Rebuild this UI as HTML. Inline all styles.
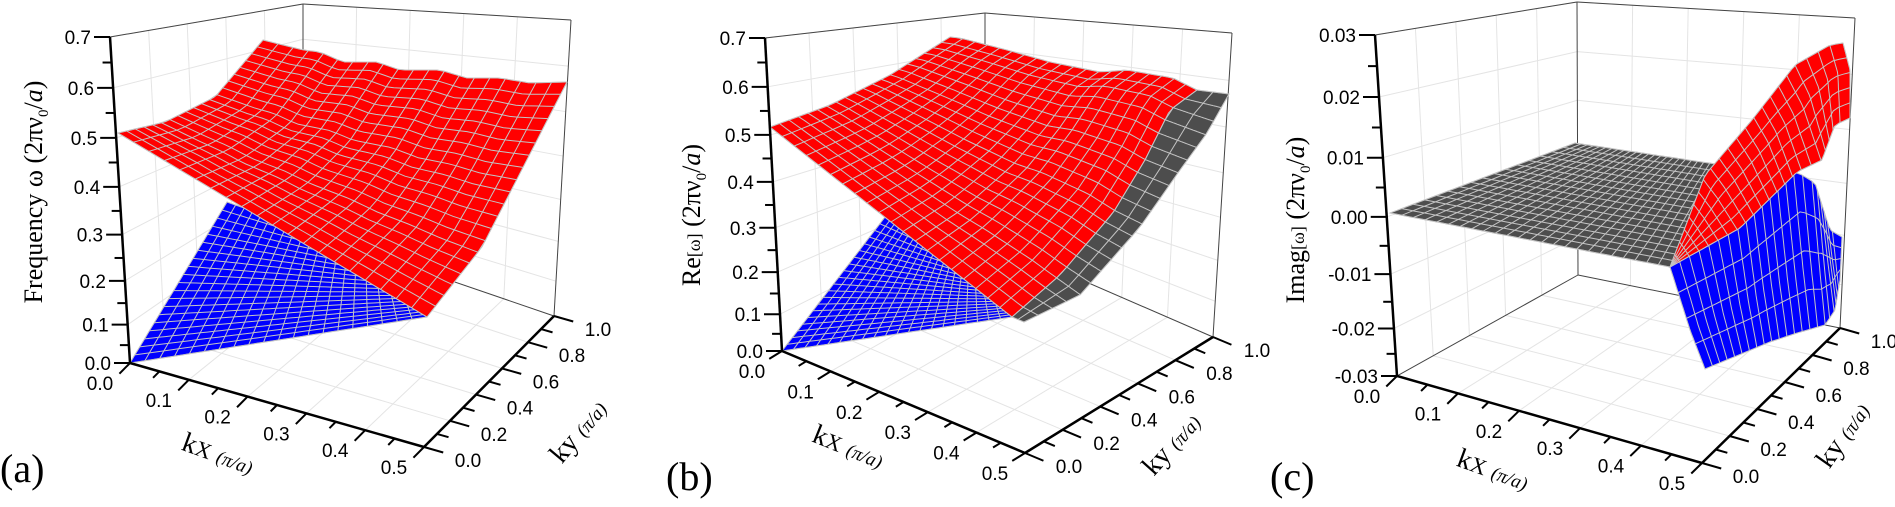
<!DOCTYPE html>
<html><head><meta charset="utf-8">
<style>
html,body{margin:0;padding:0;background:#fff;}
svg{display:block;}
text{font-family:"Liberation Sans",Arial,sans-serif;}
.t{font-family:"Liberation Serif","Times New Roman",serif;}
</style></head>
<body>
<svg id="s" width="1895" height="507" viewBox="0 0 1895 507" xmlns="http://www.w3.org/2000/svg">
<text class="t" x="0" y="482" font-size="40">(a)</text>
<text class="t" x="666" y="490" font-size="40">(b)</text>
<text class="t" x="1270" y="490" font-size="40">(c)</text>
<text class="t" font-size="26" transform="translate(42,192) rotate(-90)" text-anchor="middle">Frequency ω (2πν<tspan font-size="15" dy="6">0</tspan><tspan dy="-6">/</tspan><tspan font-style="italic">a</tspan>)</text>
<text class="t" font-size="26" transform="translate(700,215) rotate(-90)" text-anchor="middle">Re<tspan font-size="18">[ω]</tspan> (2πν<tspan font-size="15" dy="6">0</tspan><tspan dy="-6">/</tspan><tspan font-style="italic">a</tspan>)</text>
<text class="t" font-size="26" transform="translate(1304,220) rotate(-90)" text-anchor="middle">Imag<tspan font-size="18">[ω]</tspan> (2πν<tspan font-size="15" dy="6">0</tspan><tspan dy="-6">/</tspan><tspan font-style="italic">a</tspan>)</text>
<text class="t" font-size="28" transform="translate(215,462) rotate(20)" text-anchor="middle">k<tspan font-size="22">X</tspan> <tspan font-size="19" font-style="italic">(π/a)</tspan></text>
<text class="t" font-size="28" transform="translate(845,455) rotate(22)" text-anchor="middle">k<tspan font-size="22">X</tspan> <tspan font-size="19" font-style="italic">(π/a)</tspan></text>
<text class="t" font-size="28" transform="translate(1490,478) rotate(20)" text-anchor="middle">k<tspan font-size="22">X</tspan> <tspan font-size="19" font-style="italic">(π/a)</tspan></text>
<text class="t" font-size="28" transform="translate(585,437) rotate(-50)" text-anchor="middle">ky <tspan font-size="19" font-style="italic">(π/a)</tspan></text>
<text class="t" font-size="28" transform="translate(1178,450) rotate(-48)" text-anchor="middle">ky <tspan font-size="19" font-style="italic">(π/a)</tspan></text>
<text class="t" font-size="28" transform="translate(1850,440) rotate(-55)" text-anchor="middle">ky <tspan font-size="19" font-style="italic">(π/a)</tspan></text>
</svg>
<script>
(function(){
var svg=document.getElementById('s');var NS='http://www.w3.org/2000/svg';
var bg=document.createElementNS(NS,'g');var mid=document.createElementNS(NS,'g');var fg=document.createElementNS(NS,'g');
svg.insertBefore(fg,svg.firstChild);svg.insertBefore(mid,fg);svg.insertBefore(bg,mid);
function el(p,n,a,txt){var e=document.createElementNS(NS,n);for(var k in a)e.setAttribute(k,a[k]);if(txt!=null)e.textContent=txt;p.appendChild(e);return e;}
function L(a,b,t){return [a[0]+(b[0]-a[0])*t,a[1]+(b[1]-a[1])*t];}
function line(p,a,b,c,w){el(p,'line',{x1:a[0],y1:a[1],x2:b[0],y2:b[1],stroke:c,'stroke-width':w});}
function samp(poly,t){if(poly.length==1)return poly[0];var len=[0];for(var i=1;i<poly.length;i++){len.push(len[i-1]+Math.hypot(poly[i][0]-poly[i-1][0],poly[i][1]-poly[i-1][1]));}
var T=len[len.length-1];if(T==0)return poly[0];var d=t*T;for(var i=1;i<poly.length;i++){if(d<=len[i]||i==poly.length-1){var s=(d-len[i-1])/((len[i]-len[i-1])||1);return L(poly[i-1],poly[i],Math.min(1,Math.max(0,s)));}}}
function coons(c0,c1,d0,d1,u,v){var a=samp(c0,u),b=samp(c1,u),c=samp(d0,v),d=samp(d1,v);
var P00=c0[0],P10=c0[c0.length-1],P01=c1[0],P11=c1[c1.length-1];
return [0,1].map(function(k){return (1-v)*a[k]+v*b[k]+(1-u)*c[k]+u*d[k]-((1-u)*(1-v)*P00[k]+u*(1-v)*P10[k]+(1-u)*v*P01[k]+u*v*P11[k]);});}
function pts(a){return a.map(function(p){return p[0].toFixed(1)+','+p[1].toFixed(1)}).join(' ');}
function surf(c0,c1,d0,d1,nu,nv,fill){var g=mid;var b=[],N=40,i;
for(i=0;i<=N;i++)b.push(coons(c0,c1,d0,d1,i/N,0));for(i=0;i<=N;i++)b.push(coons(c0,c1,d0,d1,1,i/N));
for(i=N;i>=0;i--)b.push(coons(c0,c1,d0,d1,i/N,1));for(i=N;i>=0;i--)b.push(coons(c0,c1,d0,d1,0,i/N));
el(g,'polygon',{points:pts(b),fill:fill,stroke:'#bdbdbd','stroke-width':0.8});
for(i=0;i<=nu;i++){var q=[];for(var j=0;j<=20;j++)q.push(coons(c0,c1,d0,d1,i/nu,j/20));el(g,'polyline',{points:pts(q),fill:'none',stroke:'#c4c4c4','stroke-width':1});}
for(i=0;i<=nv;i++){var q=[];for(var j=0;j<=40;j++)q.push(coons(c0,c1,d0,d1,j/40,i/nv));el(g,'polyline',{points:pts(q),fill:'none',stroke:'#c4c4c4','stroke-width':1});}}
function panel(P){var O=P.O,X=P.X,C=P.C,B=P.B,Z=P.Z,ZB=P.ZB,ZC=P.ZC;var gc='#e4e4e4';
function zf(t){return Math.pow(t,1.1);}
var nz=P.zl.length-1,i;
for(i=1;i<=nz;i++){var t=zf(i/nz);line(bg,L(O,Z,t),L(B,ZB,t),gc,1);line(bg,L(B,ZB,t),L(C,ZC,t),gc,1);}
for(i=1;i<5;i++){var u=i/5;line(bg,L(O,X,u),L(B,C,u),gc,1);line(bg,L(B,C,u),L(ZB,ZC,u),gc,1);}
for(i=1;i<5;i++){var v=i/5;line(bg,L(O,B,v),L(X,C,v),gc,1);line(bg,L(O,B,v),L(Z,ZB,v),gc,1);}
var bc='#444';line(bg,Z,ZB,bc,1);line(bg,ZB,ZC,bc,1);line(bg,B,ZB,bc,1);line(bg,C,ZC,bc,1);line(bg,B,C,bc,1);line(bg,O,B,bc,1);
line(fg,O,Z,'#000',2.5);line(fg,O,X,'#000',2.5);line(fg,X,C,'#000',2.5);
for(i=0;i<=2*nz;i++){var t=zf(i/(2*nz));var p=L(O,Z,t);var len=i%2?9:16;line(fg,p,[p[0]-len,p[1]],'#000',2);
if(i%2==0)el(fg,'text',{x:p[0]-19,y:p[1]+7,'font-size':19,'text-anchor':'end'},P.zl[i/2]);}
var dx=[C[0]-X[0],C[1]-X[1]],dl=Math.hypot(dx[0],dx[1]);dx=[-dx[0]/dl,-dx[1]/dl];
for(i=0;i<=10;i++){var p=L(O,X,i/10);var len=i%2?9:15;line(fg,p,[p[0]+dx[0]*len,p[1]+dx[1]*len],'#000',2);
if(i%2==0)el(fg,'text',{x:p[0]+P.kxo[0],y:p[1]+P.kxo[1],'font-size':19,'text-anchor':'middle'},(i/20).toFixed(1));}
var dy=[X[0]-O[0],X[1]-O[1]],yl=Math.hypot(dy[0],dy[1]);dy=[dy[0]/yl,dy[1]/yl];
for(i=0;i<=10;i++){var p=L(X,C,i/10);var len=i%2?12:20;line(fg,p,[p[0]+dy[0]*len,p[1]+dy[1]*len],'#000',2);
if(i%2==0)el(fg,'text',{x:p[0]+P.kyo[0],y:p[1]+P.kyo[1],'font-size':19,'text-anchor':'middle'},(i/10).toFixed(1));}}
var zA=['0.0','0.1','0.2','0.3','0.4','0.5','0.6','0.7'];
panel({O:[130,363],X:[424,447],C:[554,316],B:[303,230],Z:[110,37],ZB:[303,4],ZC:[571,20],zl:zA,kxo:[-30,27],kyo:[44,20]});
panel({O:[782,351],X:[1025,453],C:[1213,337],B:[985,238],Z:[765,38],ZB:[985,13],ZC:[1232,33],zl:zA,kxo:[-30,27],kyo:[44,20]});
panel({O:[1397,376],X:[1702,463],C:[1840,328],B:[1578,275],Z:[1375,35],ZB:[1577,2],ZC:[1855,18],zl:['-0.03','-0.02','-0.01','0.00','0.01','0.02','0.03'],kxo:[-30,27],kyo:[44,20]});
var R='#ff0000',BL='#0000ff',G='#4d4d4d';
// panel a
surf([[130,363],[427,317]],[[227,202],[400,262]],[[130,363],[227,202]],[[427,317],[400,262]],20,20,BL);
surf([[118,133],[427,317]],[[263,40],[303,50],[320,52],[343,62],[377,62],[400,70],[440,70],[467,78],[500,78],[530,83],[567,82]],
 [[118,133],[165,122],[215,97],[263,40]],[[427,317],[482,247],[567,82]],20,20,R);
// panel b
surf([[782,351],[1012,317]],[[885,217],[990,272]],[[782,351],[885,217]],[[1012,317],[990,272]],20,20,BL);
surf([[770,127],[1012,317]],[[950,37],[960,38],[1007,50],[1050,62],[1100,72],[1127,70],[1173,78],[1197,90]],
 [[770,127],[830,105],[890,75],[950,37]],[[1012,317],[1060,275],[1113,213],[1145,160],[1170,110],[1197,90]],20,20,R);
surf([[1012,317],[1024,322]],[[1197,90],[1229,94]],[[1012,317],[1060,275],[1113,213],[1145,160],[1170,110],[1197,90]],
 [[1024,322],[1080,295],[1140,227],[1180,170],[1207,133],[1229,94]],2,20,G);
// panel c
surf([[1390,213],[1670,267]],[[1575,143],[1722,165]],[[1390,213],[1575,143]],[[1670,267],[1722,165]],24,16,G);
surf([[1670,267],[1740,228],[1797,172],[1815,183],[1830,230],[1842,237]],[[1705,369],[1770,342],[1797,333],[1825,325],[1835,310],[1840,280]],
 [[1670,267],[1690,330],[1705,369]],[[1842,237],[1840,280]],22,4,BL);
surf([[1670,267],[1740,228],[1797,172],[1822,160],[1835,125],[1850,118]],[[1670,267],[1705,175],[1752,120],[1795,65],[1830,45],[1843,43]],
 [[1670,267],[1670,267]],[[1850,118],[1850,70],[1843,43]],22,5,R);
})();
</script>
</body></html>
